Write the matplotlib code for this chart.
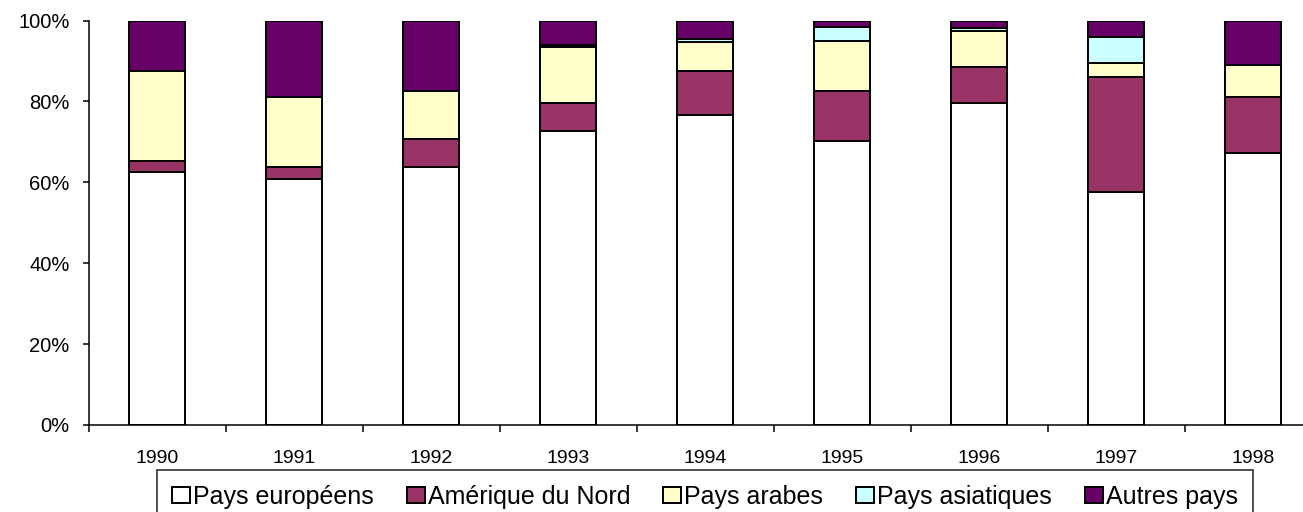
import numpy as np
import matplotlib
matplotlib.use('Agg')
import matplotlib.pyplot as plt

years = ['1990', '1991', '1992', '1993', '1994', '1995', '1996', '1997', '1998']
europe = [62.6, 60.8, 63.7, 72.6, 76.6, 70.1, 79.5, 57.7, 67.2]
amerique = [2.6, 3.1, 7.0, 7.0, 10.9, 12.5, 8.9, 28.3, 13.8]
arabes = [22.3, 17.1, 11.8, 13.8, 7.3, 12.3, 9.0, 3.5, 7.9]
asie = [0, 0, 0, 0.6, 0.6, 3.4, 0.8, 6.4, 0]
autres = [12.5, 19.0, 17.5, 6.0, 4.6, 1.7, 1.8, 4.1, 11.1]

series = [
    ('Pays européens', europe, '#FFFFFF'),
    ('Amérique du Nord', amerique, '#993366'),
    ('Pays arabes', arabes, '#FFFFCC'),
    ('Pays asiatiques', asie, '#CCFFFF'),
    ('Autres pays', autres, '#660066'),
]

plt.rcParams['font.family'] = ['Liberation Sans', 'DejaVu Sans']

fig = plt.figure(figsize=(13.03, 5.12), dpi=100)
ax = fig.add_axes([88.5 / 1303, 87 / 512, 9 * 137 / 1303, 404.5 / 512])

x = np.arange(len(years))
bottom = np.zeros(len(years))
for name, vals, col in series:
    ax.bar(x, vals, 0.41, bottom=bottom, color=col, edgecolor='black',
           linewidth=1.4, label=name)
    bottom += np.array(vals)

ax.set_xlim(-0.5, len(years) - 0.5)
ax.set_ylim(0, 100)
ax.set_yticks([0, 20, 40, 60, 80, 100])
ax.set_yticklabels(['0%', '20%', '40%', '60%', '80%', '100%'])
ax.set_xticks(x)
ax.set_xticklabels(years)
ax.set_xticks(np.arange(-0.5, len(years), 1), minor=True)
ax.tick_params(axis='x', which='major', length=0, pad=18, labelsize=14)
ax.tick_params(axis='x', which='minor', length=5, width=1.1, direction='out')
ax.tick_params(axis='y', length=4.5, width=1.1, pad=9, labelsize=14.5)
ax.spines['top'].set_visible(False)
ax.spines['right'].set_visible(False)
ax.spines['left'].set_linewidth(1.1)
ax.spines['bottom'].set_linewidth(1.1)

leg = fig.legend(loc='upper left', bbox_to_anchor=(157 / 1303, 1 - 470 / 512),
                 ncol=5, fontsize=18, frameon=True, fancybox=False,
                 edgecolor='black', borderaxespad=0, handlelength=0.72,
                 handleheight=0.6, handletextpad=0.12, columnspacing=1.32,
                 borderpad=0.6)
leg.get_frame().set_linewidth(1.2)

fig.savefig('out.png', dpi=100)
